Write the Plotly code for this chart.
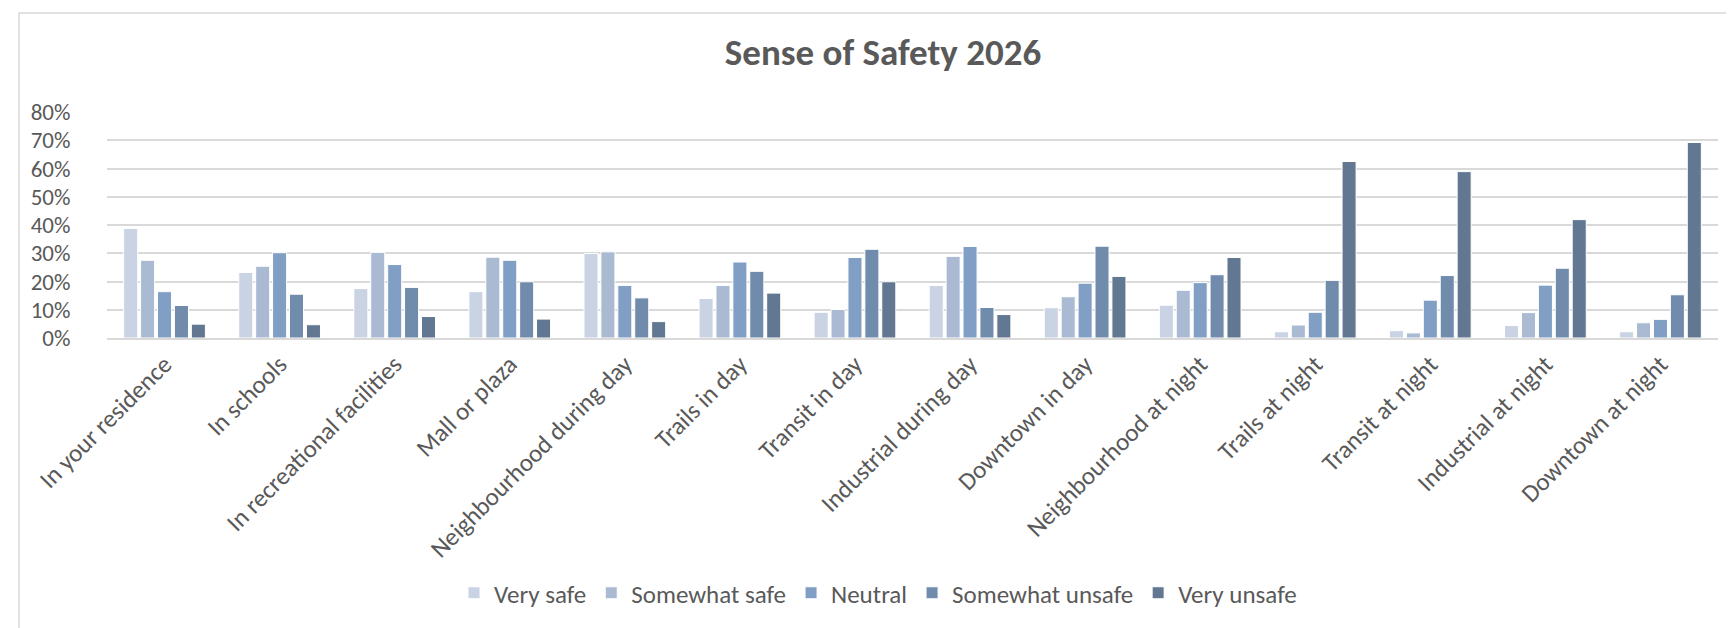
import plotly.graph_objects as go

categories = [
    "In your residence", "In schools", "In recreational facilities", "Mall or plaza",
    "Neighbourhood during day", "Trails in day", "Transit in day", "Industrial during day",
    "Downtown in day", "Neighbourhood at night", "Trails at night", "Transit at night",
    "Industrial at night", "Downtown at night",
]

very_safe = [38.8, 23.2, 17.5, 16.4, 29.9, 14.0, 9.1, 18.6, 10.7, 11.6, 2.2, 2.6, 4.4, 2.2]
somewhat_safe = [27.5, 25.4, 30.3, 28.6, 30.5, 18.6, 10.1, 28.9, 14.6, 16.9, 4.6, 1.8, 9.0, 5.4]
neutral = [16.4, 30.2, 26.0, 27.5, 18.6, 26.9, 28.5, 32.4, 19.4, 19.6, 9.1, 13.4, 18.7, 6.6]
somewhat_unsafe = [11.5, 15.5, 17.9, 19.9, 14.2, 23.6, 31.4, 10.8, 32.5, 22.4, 20.4, 22.1, 24.7, 15.3]
very_unsafe = [4.9, 4.7, 7.6, 6.7, 5.8, 15.9, 19.9, 8.3, 21.8, 28.5, 62.5, 58.9, 41.9, 69.2]

series = [
    ("Very safe", very_safe, "#C9D3E3"),
    ("Somewhat safe", somewhat_safe, "#ABBAD3"),
    ("Neutral", neutral, "#819FC4"),
    ("Somewhat unsafe", somewhat_unsafe, "#718BAC"),
    ("Very unsafe", very_unsafe, "#627792"),
]

FONT = "Carlito, Lato, sans-serif"
GREY = "#595959"

# plot area in pixels
L, R, T, B = 99, 1710, 104, 330
PW, PH = R - L, B - T

fig = go.Figure()
for name, vals, color in series:
    fig.add_trace(go.Bar(
        x=categories, y=[v / 100 for v in vals], name=name,
        marker=dict(color=color, line=dict(color="white", width=1)),
    ))

fig.update_layout(
    width=1734, height=628,
    paper_bgcolor="white", plot_bgcolor="white",
    font=dict(family=FONT, color=GREY, size=23),
    title=dict(text="<b>Sense of Safety 2026</b>", x=875 / 1734, xanchor="center",
               y=1 - 44 / 628, yanchor="middle", font=dict(size=37, color=GREY)),
    margin=dict(l=L, r=1734 - R, t=T, b=628 - B),
    barmode="group", bargap=0.265, bargroupgap=0.17,
    legend=dict(orientation="h", x=(870 - L) / PW, xanchor="center",
                y=(B - 585) / PH, yanchor="middle",
                font=dict(size=25, color=GREY), itemwidth=30, traceorder="normal"),
    showlegend=True,
)
fig.update_yaxes(range=[0, 0.8], dtick=0.1, tickformat=".0%", gridcolor="#D9D9D9",
                 gridwidth=1.5, zeroline=False, showline=False,
                 ticks="outside", ticklen=31, tickcolor="rgba(0,0,0,0)",
                 tickfont=dict(size=23, color=GREY), automargin=False)
fig.update_xaxes(tickangle=-45, showline=True, linecolor="#D9D9D9", linewidth=1.5,
                 ticks="", tickfont=dict(size=25, color=GREY), automargin=False)

# outer chart border
fig.add_shape(type="rect", xref="paper", yref="paper",
              x0=(11 - L) / PW, x1=(1736 - L) / PW, y0=(B - 632) / PH, y1=(B - 5) / PH,
              line=dict(color="#D9D9D9", width=1.5), fillcolor="rgba(0,0,0,0)")

fig.write_html("out.html")
